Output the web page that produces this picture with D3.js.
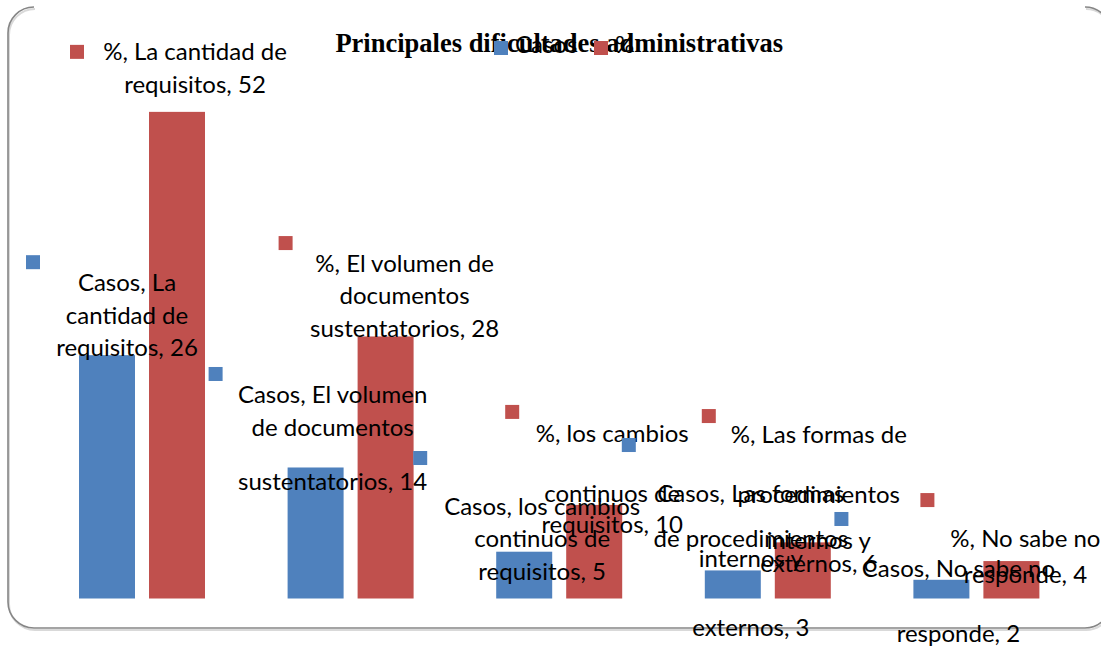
<!DOCTYPE html>
<html>
<head>
<meta charset="utf-8">
<script src="https://cdn.jsdelivr.net/npm/d3@7"></script>
<style>
body { margin: 0; background: #fff; }
svg { display: block; }
</style>
</head>
<body>
<script>
// chart data
const categories = [
	"La cantidad de requisitos",
	"El volumen de documentos sustentatorios",
	"los cambios continuos de requisitos",
	"Las formas de procedimientos internos y externos",
	"No sabe no responde"
]
const seriesNames = ["Casos", "%"]
const casos = [26, 14, 5, 3, 2]
const porcentaje = [52, 28, 10, 6, 4]
const yDomain = [0, 60]
const title = "Principales dificultades administrativas"

const colors = {"Casos": "#4F81BD", "%": "#C0504D"}

// where excel dropped each data label, relative to the top centre of its bar
// words = how many words go on each wrapped line
const labelLayout = {
	"Casos": [
		{dx: 20, dy: [-64, -31, 1], kx: -81, ky: -100, words: [2, 2, 2]},
		{dx: 17, dy: [-64.5, -31.5, 22.5], kx: -107, ky: -100.5, words: [3, 2, 2]},
		{dx: 18, dy: [-36.7, -4.7, 28.3], kx: -111, ky: -100.7, words: [3, 2, 2]},
		{dx: 18, dy: [-68.4, -23.4, -3.4, 65.6], kx: -111, ky: -132.4, words: [3, 2, 2, 2]},
		{dx: 17, dy: [-2.8, 62.2], kx: -107, ky: -67.8, words: [4, 2]}
	],
	"%": [
		{dx: 18, dy: [-52, -19], kx: -107, ky: -67, words: [4, 2]},
		{dx: 19, dy: [-64.4, -32.4, 0.6], kx: -107, ky: -100.4, words: [4, 1, 2]},
		{dx: 18, dy: [-63, -3, 28], kx: -89, ky: -100, words: [3, 2, 2]},
		{dx: 16, dy: [-99.3, -39.3, 6.7, 29.7], kx: -101, ky: -133.3, words: [4, 1, 2, 2]},
		{dx: 14, dy: [-14, 22], kx: -91, ky: -68, words: [4, 2]}
	]
}

var width = 1101
var height = 650
var labelFont = "Lato, 'Open Sans', sans-serif"

var data = categories.map(function(c, i) {
	return {cat: c, i: i, values: [
		{series: "Casos", value: casos[i]},
		{series: "%", value: porcentaje[i]}
	]}
})

var svg = d3.select("body").append("svg")
	.attr("width", width)
	.attr("height", height)

// rounded chart frame, the top edge does not show in the original
function framePath(dx, dy) {
	var l = 8 + dx, t = 7 + dy, r = 1111 + dx, b = 628 + dy, rad = 26
	return "M" + (l + rad) + "," + t +
		" A" + rad + "," + rad + " 0 0 0 " + l + "," + (t + rad) +
		" L" + l + "," + (b - rad) +
		" A" + rad + "," + rad + " 0 0 0 " + (l + rad) + "," + b +
		" L" + (r - rad) + "," + b +
		" A" + rad + "," + rad + " 0 0 0 " + r + "," + (b - rad) +
		" L" + r + "," + (t + rad) +
		" A" + rad + "," + rad + " 0 0 0 " + (r - rad) + "," + t
}
svg.append("path")
	.attr("d", framePath(1, 2))
	.attr("fill", "none")
	.attr("stroke", "#d9d9d9")
	.attr("stroke-width", 2)
svg.append("path")
	.attr("d", framePath(0, 0))
	.attr("fill", "none")
	.attr("stroke", "#868686")
	.attr("stroke-width", 1.6)

var x0 = d3.scaleBand()
	.domain(categories)
	.range([37.7, 1080.7])
	.paddingInner(0.396)
	.paddingOuter(0.198)

var x1 = d3.scaleBand()
	.domain(seriesNames)
	.range([0, x0.bandwidth()])
	.paddingInner(0.2)

var y = d3.scaleLinear()
	.domain(yDomain)
	.range([598.5, 37])

var groups = svg.selectAll(".cat")
	.data(data)
	.enter().append("g")
	.attr("class", "cat")
	.attr("transform", function(d) { return "translate(" + x0(d.cat) + ",0)" })

groups.selectAll("rect")
	.data(function(d) { return d.values })
	.enter().append("rect")
	.attr("x", function(d) { return x1(d.series) })
	.attr("y", function(d) { return y(d.value) })
	.attr("width", x1.bandwidth())
	.attr("height", function(d) { return y(0) - y(d.value) })
	.attr("fill", function(d) { return colors[d.series] })

// data labels: "serie, categoria, valor" with a legend key, like excel does
var labels = []
data.forEach(function(d) {
	d.values.forEach(function(v) {
		var lay = labelLayout[v.series][d.i]
		var words = (v.series + ", " + d.cat + ", " + v.value).split(" ")
		var lines = [], k = 0
		lay.words.forEach(function(n) {
			lines.push(words.slice(k, k + n).join(" "))
			k += n
		})
		labels.push({
			series: v.series,
			cx: x0(d.cat) + x1(v.series) + x1.bandwidth() / 2,
			top: y(v.value),
			lay: lay,
			lines: lines
		})
	})
})

var lab = svg.selectAll(".lab")
	.data(labels)
	.enter().append("g")
	.attr("class", "lab")

lab.append("rect")
	.attr("x", function(d) { return d.cx + d.lay.kx })
	.attr("y", function(d) { return d.top + d.lay.ky })
	.attr("width", 14)
	.attr("height", 14)
	.attr("fill", function(d) { return colors[d.series] })

lab.append("text")
	.attr("text-anchor", "middle")
	.style("font-family", labelFont)
	.style("font-size", "24px")
	.attr("fill", "#000")
	.selectAll("tspan")
	.data(function(d) {
		return d.lines.map(function(t, k) {
			return {t: t, x: d.cx + d.lay.dx, y: d.top + d.lay.dy[k]}
		})
	})
	.enter().append("tspan")
	.attr("x", function(d) { return d.x })
	.attr("y", function(d) { return d.y })
	.text(function(d) { return d.t })

// title
svg.append("text")
	.attr("x", (x0.range()[0] + x0.range()[1]) / 2)
	.attr("y", 52)
	.attr("text-anchor", "middle")
	.style("font-family", "'Liberation Serif', 'Times New Roman', serif")
	.style("font-weight", "bold")
	.style("font-size", "26.5px")
	.text(title)

// legend sits on top of the title
var legend = svg.selectAll(".legend")
	.data(seriesNames)
	.enter().append("g")
	.attr("class", "legend")
	.attr("transform", function(d, i) { return "translate(" + (494 + i * 100) + ",41)" })

legend.append("rect")
	.attr("width", 14)
	.attr("height", 14)
	.attr("fill", function(d) { return colors[d] })

legend.append("text")
	.attr("x", 21)
	.attr("y", 12)
	.style("font-family", labelFont)
	.style("font-size", "24px")
	.text(function(d) { return d })
</script>
</body>
</html>
